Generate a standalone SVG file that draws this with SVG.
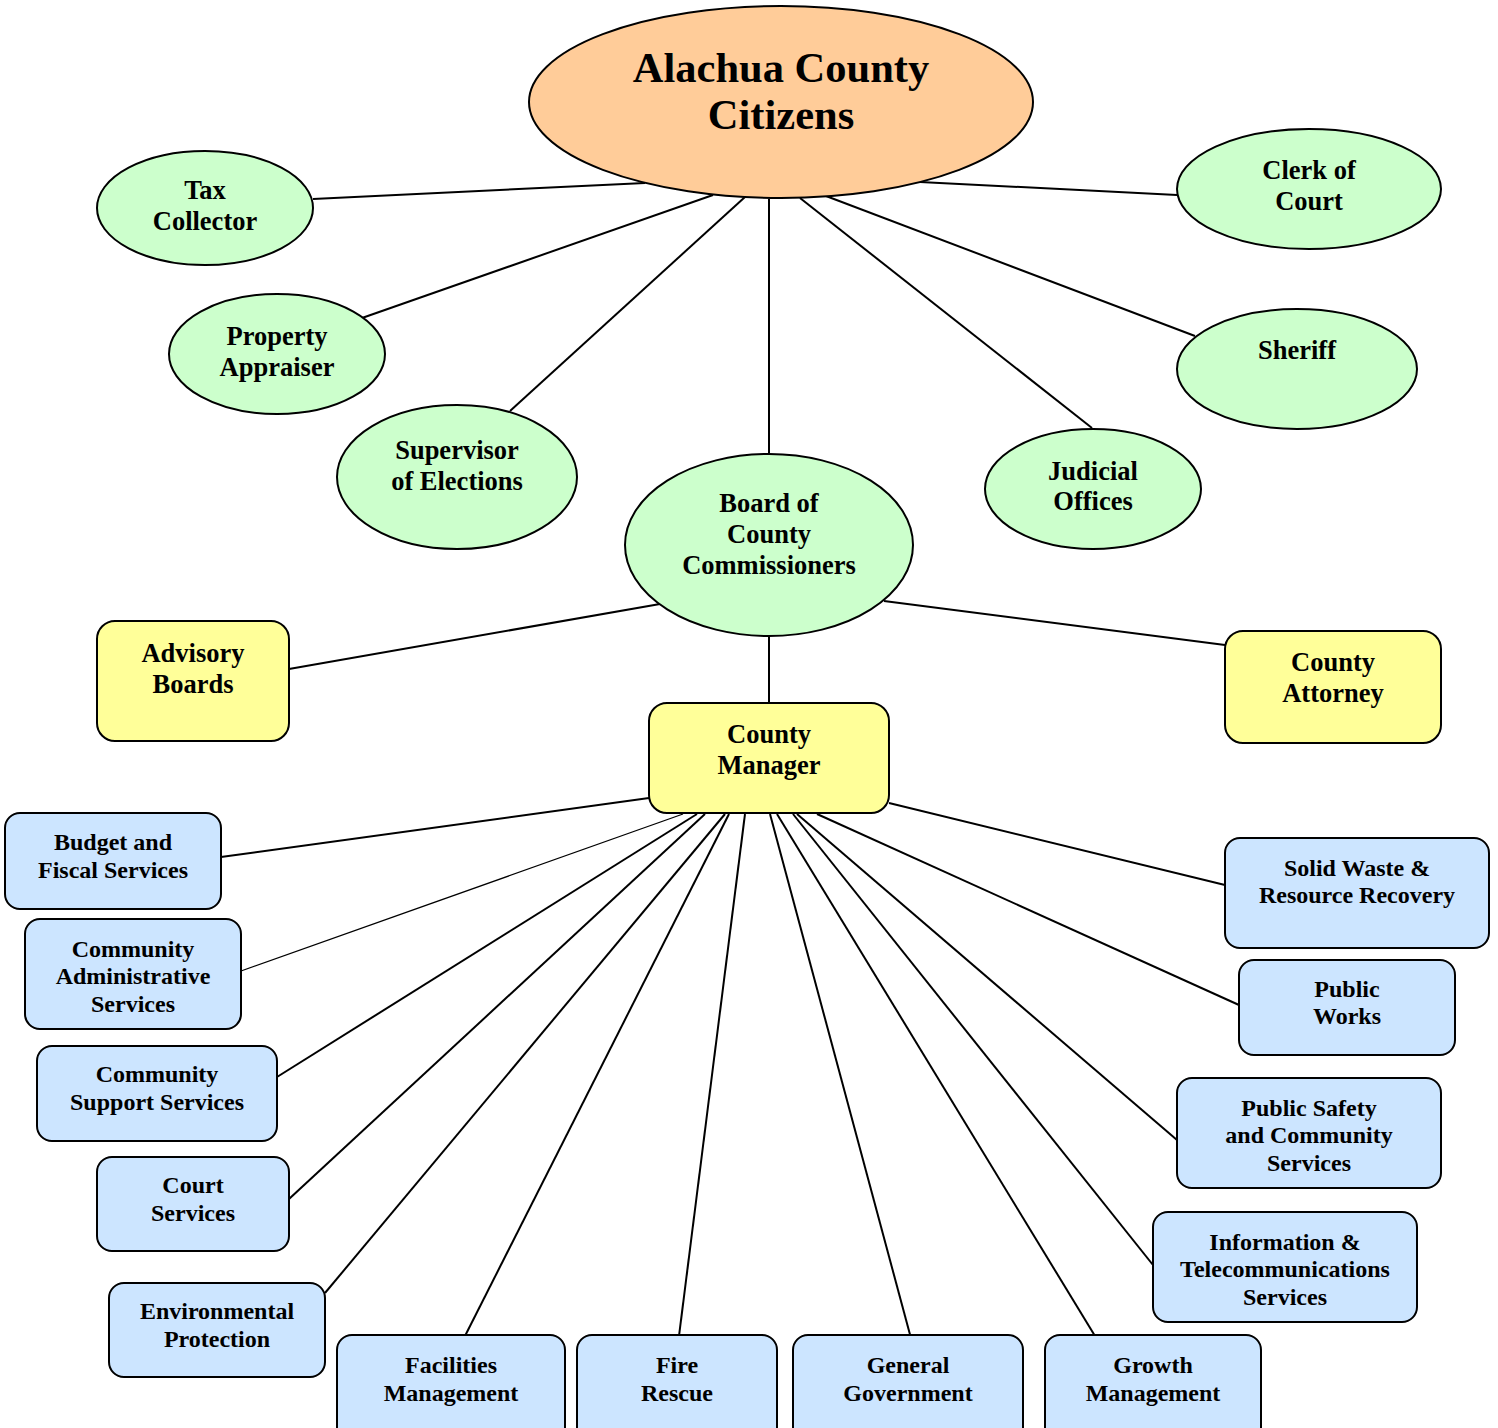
<svg xmlns="http://www.w3.org/2000/svg" width="1498" height="1428" viewBox="0 0 1498 1428">
<style>
text{font-family:'Liberation Serif','Times New Roman',serif;font-weight:bold;fill:#000;text-anchor:middle}
.t24{font-size:26.5px}
.t22{font-size:24px}
.big{font-size:42.5px}
.ell{stroke:#000;stroke-width:2}
.g{fill:#CCFFCC}
.y{fill:#FFFF99;stroke:#000;stroke-width:2}
.b{fill:#CCE5FF;stroke:#000;stroke-width:2}
#connectors line{stroke:#000;stroke-width:2}
</style>
<rect width="1498" height="1428" fill="#fff"/>
<g id="connectors">
<line x1="313" y1="199" x2="645" y2="183"/>
<line x1="920" y1="182" x2="1177" y2="195"/>
<line x1="362" y1="318" x2="713" y2="195"/>
<line x1="826" y1="196" x2="1195" y2="336"/>
<line x1="510" y1="411" x2="745" y2="197"/>
<line x1="800" y1="198" x2="1092" y2="428"/>
<line x1="769" y1="199" x2="769" y2="453"/>
<line x1="660" y1="604" x2="289" y2="669"/>
<line x1="884" y1="601" x2="1225" y2="645"/>
<line x1="769" y1="636" x2="769" y2="703"/>
<line x1="649" y1="798" x2="221" y2="857"/>
<line x1="683" y1="814" x2="241" y2="971" style="stroke-width:1.3"/>
<line x1="697" y1="814" x2="277" y2="1077"/>
<line x1="705" y1="814" x2="289" y2="1199"/>
<line x1="725" y1="814" x2="325" y2="1293"/>
<line x1="729" y1="814" x2="465" y2="1336"/>
<line x1="745" y1="814" x2="679" y2="1336"/>
<line x1="770" y1="814" x2="912" y2="1342"/>
<line x1="777" y1="814" x2="1095" y2="1336"/>
<line x1="793" y1="814" x2="1153" y2="1265"/>
<line x1="797" y1="814" x2="1177" y2="1140"/>
<line x1="817" y1="814" x2="1239" y2="1005"/>
<line x1="889" y1="803" x2="1225" y2="885"/>
</g>
<g id="citizens">
<ellipse class="ell" cx="781" cy="102" rx="252" ry="96" fill="#FFCC99"/>
<text class="big" x="781" y="82">Alachua County</text>
<text class="big" x="781" y="129">Citizens</text>
</g>
<g id="tax-collector">
<ellipse class="ell g" cx="205" cy="208" rx="108" ry="57"/>
<text class="t24" x="205" y="199">Tax</text>
<text class="t24" x="205" y="230">Collector</text>
</g>
<g id="property-appraiser">
<ellipse class="ell g" cx="277" cy="354" rx="108" ry="60"/>
<text class="t24" x="277" y="345">Property</text>
<text class="t24" x="277" y="376">Appraiser</text>
</g>
<g id="supervisor-elections">
<ellipse class="ell g" cx="457" cy="477" rx="120" ry="72"/>
<text class="t24" x="457" y="459">Supervisor</text>
<text class="t24" x="457" y="490">of Elections</text>
</g>
<g id="board">
<ellipse class="ell g" cx="769" cy="545" rx="144" ry="91"/>
<text class="t24" x="769" y="512">Board of</text>
<text class="t24" x="769" y="543">County</text>
<text class="t24" x="769" y="574">Commissioners</text>
</g>
<g id="judicial-offices">
<ellipse class="ell g" cx="1093" cy="489" rx="108" ry="60"/>
<text class="t24" x="1093" y="480">Judicial</text>
<text class="t24" x="1093" y="510">Offices</text>
</g>
<g id="sheriff">
<ellipse class="ell g" cx="1297" cy="369" rx="120" ry="60"/>
<text class="t24" x="1297" y="359">Sheriff</text>
</g>
<g id="clerk-of-court">
<ellipse class="ell g" cx="1309" cy="189" rx="132" ry="60"/>
<text class="t24" x="1309" y="179">Clerk of</text>
<text class="t24" x="1309" y="210">Court</text>
</g>
<g id="advisory-boards">
<rect class="y" x="97" y="621" width="192" height="120" rx="18"/>
<text class="t24" x="193" y="662">Advisory</text>
<text class="t24" x="193" y="693">Boards</text>
</g>
<g id="county-attorney">
<rect class="y" x="1225" y="631" width="216" height="112" rx="18"/>
<text class="t24" x="1333" y="671">County</text>
<text class="t24" x="1333" y="702">Attorney</text>
</g>
<g id="county-manager">
<rect class="y" x="649" y="703" width="240" height="110" rx="18"/>
<text class="t24" x="769" y="743">County</text>
<text class="t24" x="769" y="774">Manager</text>
</g>
<g id="budget">
<rect class="b" x="5" y="813" width="216" height="96" rx="15"/>
<text class="t22" x="113" y="850">Budget and</text>
<text class="t22" x="113" y="878">Fiscal Services</text>
</g>
<g id="community-admin">
<rect class="b" x="25" y="919" width="216" height="110" rx="15"/>
<text class="t22" x="133" y="957">Community</text>
<text class="t22" x="133" y="984">Administrative</text>
<text class="t22" x="133" y="1012">Services</text>
</g>
<g id="community-support">
<rect class="b" x="37" y="1046" width="240" height="95" rx="15"/>
<text class="t22" x="157" y="1082">Community</text>
<text class="t22" x="157" y="1110">Support Services</text>
</g>
<g id="court-services">
<rect class="b" x="97" y="1157" width="192" height="94" rx="15"/>
<text class="t22" x="193" y="1193">Court</text>
<text class="t22" x="193" y="1221">Services</text>
</g>
<g id="environmental">
<rect class="b" x="109" y="1283" width="216" height="94" rx="15"/>
<text class="t22" x="217" y="1319">Environmental</text>
<text class="t22" x="217" y="1347">Protection</text>
</g>
<g id="facilities">
<rect class="b" x="337" y="1335" width="228" height="110" rx="15"/>
<text class="t22" x="451" y="1373">Facilities</text>
<text class="t22" x="451" y="1401">Management</text>
</g>
<g id="fire-rescue">
<rect class="b" x="577" y="1335" width="200" height="110" rx="15"/>
<text class="t22" x="677" y="1373">Fire</text>
<text class="t22" x="677" y="1401">Rescue</text>
</g>
<g id="general-government">
<rect class="b" x="793" y="1335" width="230" height="110" rx="15"/>
<text class="t22" x="908" y="1373">General</text>
<text class="t22" x="908" y="1401">Government</text>
</g>
<g id="growth-management">
<rect class="b" x="1045" y="1335" width="216" height="110" rx="15"/>
<text class="t22" x="1153" y="1373">Growth</text>
<text class="t22" x="1153" y="1401">Management</text>
</g>
<g id="info-telecom">
<rect class="b" x="1153" y="1212" width="264" height="110" rx="15"/>
<text class="t22" x="1285" y="1250">Information &amp;</text>
<text class="t22" x="1285" y="1277">Telecommunications</text>
<text class="t22" x="1285" y="1305">Services</text>
</g>
<g id="public-safety">
<rect class="b" x="1177" y="1078" width="264" height="110" rx="15"/>
<text class="t22" x="1309" y="1116">Public Safety</text>
<text class="t22" x="1309" y="1143">and Community</text>
<text class="t22" x="1309" y="1171">Services</text>
</g>
<g id="public-works">
<rect class="b" x="1239" y="960" width="216" height="95" rx="15"/>
<text class="t22" x="1347" y="997">Public</text>
<text class="t22" x="1347" y="1024">Works</text>
</g>
<g id="solid-waste">
<rect class="b" x="1225" y="838" width="264" height="110" rx="15"/>
<text class="t22" x="1357" y="876">Solid Waste &amp;</text>
<text class="t22" x="1357" y="903">Resource Recovery</text>
</g>
</svg>
